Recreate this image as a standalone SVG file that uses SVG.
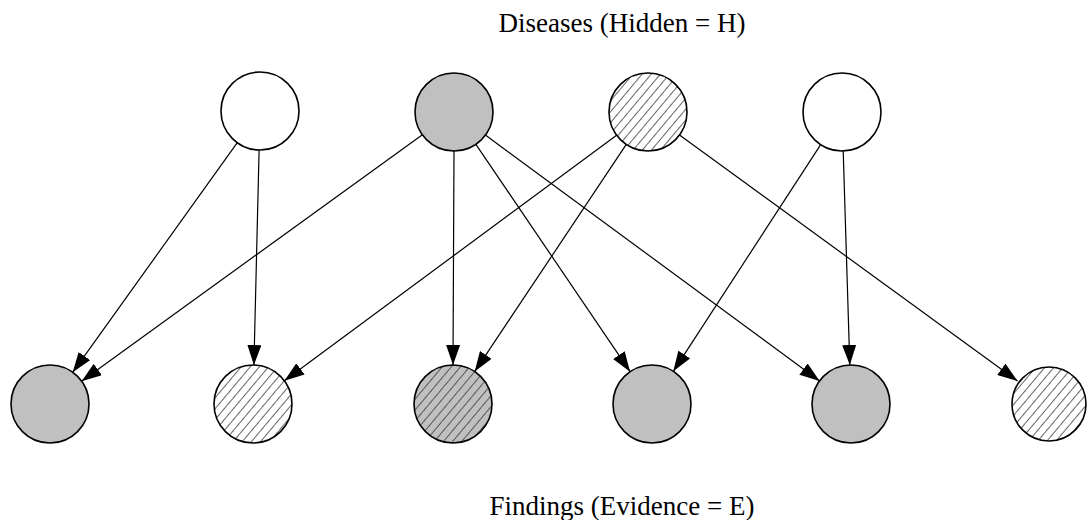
<svg xmlns="http://www.w3.org/2000/svg" width="1088" height="520" viewBox="0 0 1088 520">
<style>
.node{stroke:#000;stroke-width:1.6}
.white{fill:#fff}
.grey{fill:#c0c0c0}
.edge{stroke:#000;stroke-width:1.2;fill:none;marker-end:url(#arrow)}
.label{font-family:"Liberation Serif","Times New Roman",serif;font-size:27px;fill:#000;text-anchor:middle}
</style>
<defs>
<marker id="arrow" viewBox="0 0 20 14" refX="20" refY="7" markerWidth="20" markerHeight="14" markerUnits="userSpaceOnUse" orient="auto">
<path d="M0,0 L20,7 L0,14 Z" fill="#000"/>
</marker>
<pattern id="hatchW" patternUnits="userSpaceOnUse" width="7" height="7" patternTransform="rotate(40)">
<rect width="7" height="7" fill="#fff"/>
<line x1="0" y1="0" x2="0" y2="7" stroke="#333" stroke-width="1.5"/>
</pattern>
<pattern id="hatchG" patternUnits="userSpaceOnUse" width="7" height="7" patternTransform="rotate(40)">
<rect width="7" height="7" fill="#c0c0c0"/>
<line x1="0" y1="0" x2="0" y2="7" stroke="#333" stroke-width="1.5"/>
</pattern>
</defs>
<g id="connectors">
<line class="edge" x1="237.3" y1="142.7" x2="72.7" y2="372.3"/>
<line class="edge" x1="259.1" y1="150" x2="253.9" y2="365"/>
<line class="edge" x1="422.4" y1="134.8" x2="81.6" y2="381.2"/>
<line class="edge" x1="454" y1="151" x2="453" y2="365"/>
<line class="edge" x1="475.9" y1="144.3" x2="630.1" y2="371.7"/>
<line class="edge" x1="485.4" y1="135.1" x2="819.6" y2="380.9"/>
<line class="edge" x1="616.6" y1="135.2" x2="284.4" y2="380.8"/>
<line class="edge" x1="626.3" y1="144.4" x2="474.7" y2="371.6"/>
<line class="edge" x1="679.5" y1="135" x2="1017.5" y2="381"/>
<line class="edge" x1="820.7" y1="144.7" x2="673.3" y2="371.3"/>
<line class="edge" x1="843.2" y1="151" x2="849.8" y2="365"/>
</g>
<g id="H1"><circle class="node white" cx="260" cy="111" r="39"/></g>
<g id="H2"><circle class="node grey" cx="454" cy="112" r="39"/></g>
<g id="H3"><circle class="node" fill="url(#hatchW)" cx="648" cy="112" r="39"/></g>
<g id="H4"><circle class="node white" cx="842" cy="112" r="39"/></g>
<g id="E1"><circle class="node grey" cx="50" cy="404" r="39"/></g>
<g id="E2"><circle class="node" fill="url(#hatchW)" cx="253" cy="404" r="39"/></g>
<g id="E3"><circle class="node" fill="url(#hatchG)" cx="453" cy="404" r="39"/></g>
<g id="E4"><circle class="node grey" cx="652" cy="404" r="39"/></g>
<g id="E5"><circle class="node grey" cx="851" cy="404" r="39"/></g>
<g id="E6"><circle class="node" fill="url(#hatchW)" cx="1049" cy="404" r="37"/></g>
<g id="title-top"><text class="label" x="622" y="32">Diseases (Hidden = H)</text></g>
<g id="title-bottom"><text class="label" x="622" y="515">Findings (Evidence = E)</text></g>
</svg>
